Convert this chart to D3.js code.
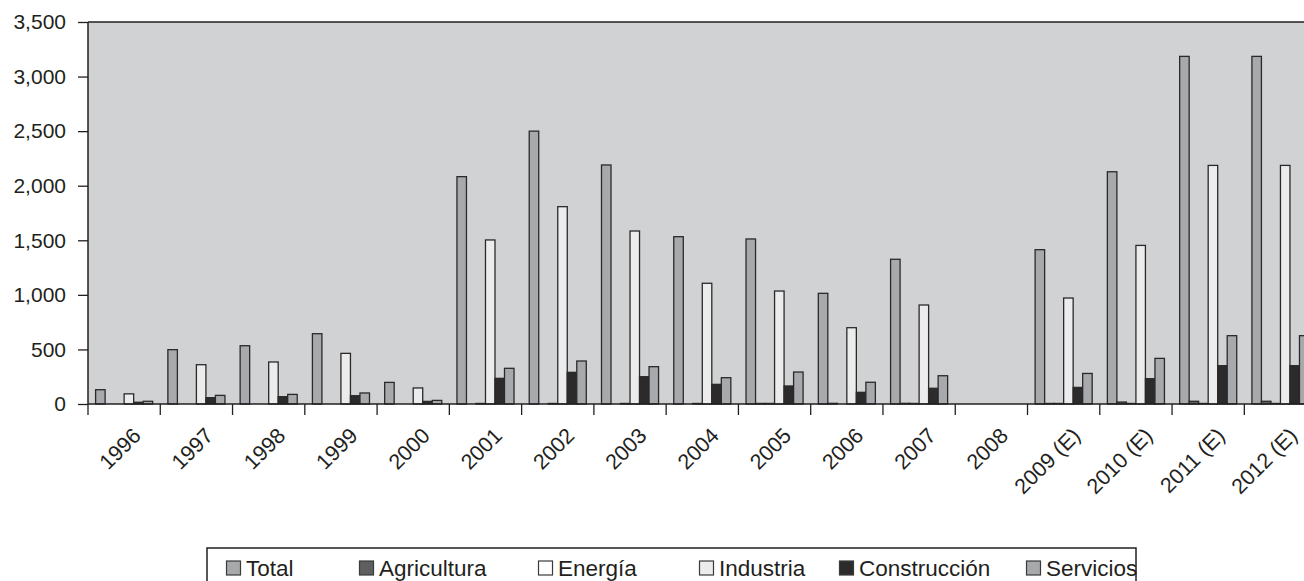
<!DOCTYPE html>
<html>
<head>
<meta charset="utf-8">
<script src="https://cdn.jsdelivr.net/npm/d3@7"></script>
<style>
  html, body { margin: 0; padding: 0; background: #fff; }
  svg { display: block; font-family: "Liberation Sans", Arial, Helvetica, sans-serif; }
</style>
</head>
<body>
<svg id="chart" width="1304" height="581"></svg>
<script>
const years = ["1996","1997","1998","1999","2000","2001","2002","2003","2004","2005","2006","2007","2008","2009 (E)","2010 (E)","2011 (E)","2012 (E)"];
const seriesNames = ["Total","Agricultura","Energía","Industria","Construcción","Servicios"];
const total        = [131, 498, 534, 644, 198, 2083, 2500, 2190, 1533, 1512, 1014, 1326, null, 1414, 2128, 3185, 3185];
const agricultura  = [0, 0, 0, 0, 0, 0, 0, 0, 0, 5, 6, 6, null, 5, 18, 25, 25];
const energia      = [0, 0, 0, 0, 0, 5, 5, 5, 5, 5, 0, 5, null, 5, 5, 5, 5];
const industria    = [93, 360, 385, 464, 147, 1503, 1808, 1585, 1106, 1035, 699, 907, null, 971, 1453, 2186, 2186];
const construccion = [16, 58, 67, 76, 24, 235, 290, 250, 180, 165, 107, 144, null, 152, 232, 351, 351];
const servicios    = [25, 79, 88, 101, 33, 327, 394, 342, 241, 293, 199, 259, null, 280, 418, 626, 626];
const yTicks = [0, 500, 1000, 1500, 2000, 2500, 3000, 3500];

const seriesValues = [total, agricultura, energia, industria, construccion, servicios];
const fills = ["#a7a9ac", "#5e5f61", "#ffffff", "#ececec", "#2d2a2b", "#a7a9ac"];

const svg = d3.select("#chart");
const W = 1304, H = 581;
const mLeft = 88, mTop = 22, mBottom = 404;
const groupW = 72.27;

const x0 = d3.scaleBand().domain(years).range([mLeft, mLeft + groupW * years.length]).paddingInner(0).paddingOuter(0);
const x1 = d3.scaleBand().domain(seriesNames).range([7.6, groupW - 7.6]).padding(0);
const y = d3.scaleLinear().domain([0, 3500]).range([mBottom, mTop]);

// plot background
svg.append("rect").attr("x", mLeft).attr("y", mTop).attr("width", W - mLeft).attr("height", mBottom - mTop)
  .attr("fill", "#d1d2d4");

// bars
const groups = svg.append("g");
years.forEach((yr, i) => {
  seriesNames.forEach((s, j) => {
    const v = seriesValues[j][i];
    if (v == null || v <= 0) return;
    groups.append("rect")
      .attr("x", x0(yr) + x1(s))
      .attr("y", y(v))
      .attr("width", x1.bandwidth())
      .attr("height", Math.max(0.5, y(0) - y(v)))
      .attr("fill", fills[j])
      .attr("stroke", "#2a2a2a")
      .attr("stroke-width", 1.3);
  });
});

// top border
svg.append("line").attr("x1", mLeft).attr("x2", W).attr("y1", mTop).attr("y2", mTop)
  .attr("stroke", "#231f20").attr("stroke-width", 1.5);

// y axis
const yAxis = d3.axisLeft(y).tickValues(yTicks).tickSize(10).tickPadding(12)
  .tickFormat(d3.format(","));
const gy = svg.append("g").attr("transform", `translate(${mLeft},0)`).call(yAxis);
gy.select(".domain").attr("stroke", "#231f20").attr("stroke-width", 1.5).attr("d", `M0,${mTop}V${mBottom}`);
gy.selectAll(".tick line").attr("stroke", "#231f20").attr("stroke-width", 1.3);
gy.selectAll(".tick text").attr("fill", "#231f20").style("font-size", "21px")
  .style("font-family", '"Liberation Sans", Arial, sans-serif');

// x axis baseline
svg.append("line").attr("x1", mLeft).attr("x2", W).attr("y1", mBottom).attr("y2", mBottom)
  .attr("stroke", "#231f20").attr("stroke-width", 1.5);
// x ticks at group boundaries
const boundaries = years.map(yr => x0(yr));
svg.append("g").selectAll("line").data(boundaries).join("line")
  .attr("x1", d => d).attr("x2", d => d).attr("y1", mBottom).attr("y2", mBottom + 11)
  .attr("stroke", "#231f20").attr("stroke-width", 1.3);

// x labels
svg.append("g").selectAll("text").data(years).join("text")
  .attr("transform", d => `translate(${x0(d) + x0.bandwidth() / 2 + 18},437) rotate(-45)`)
  .attr("text-anchor", "end")
  .attr("fill", "#231f20")
  .style("font-size", "21.5px")
  .text(d => d);

// legend
svg.append("rect").attr("x", 207).attr("y", 548).attr("width", 929).attr("height", 60)
  .attr("fill", "#fff").attr("stroke", "#231f20").attr("stroke-width", 1.5);
const legendX = [226, 359, 538, 699, 839, 1026];
const lg = svg.append("g").selectAll("g").data(seriesNames).join("g")
  .attr("transform", (d, i) => `translate(${legendX[i]},0)`);
lg.append("rect").attr("x", 0.5).attr("y", 561).attr("width", 14).attr("height", 14)
  .attr("fill", (d, i) => fills[i]).attr("stroke", "#3a3a3a").attr("stroke-width", 1.2);
lg.append("text").attr("x", 20).attr("y", 576).attr("fill", "#231f20")
  .style("font-size", "22.5px").text(d => d);
</script>
</body>
</html>
